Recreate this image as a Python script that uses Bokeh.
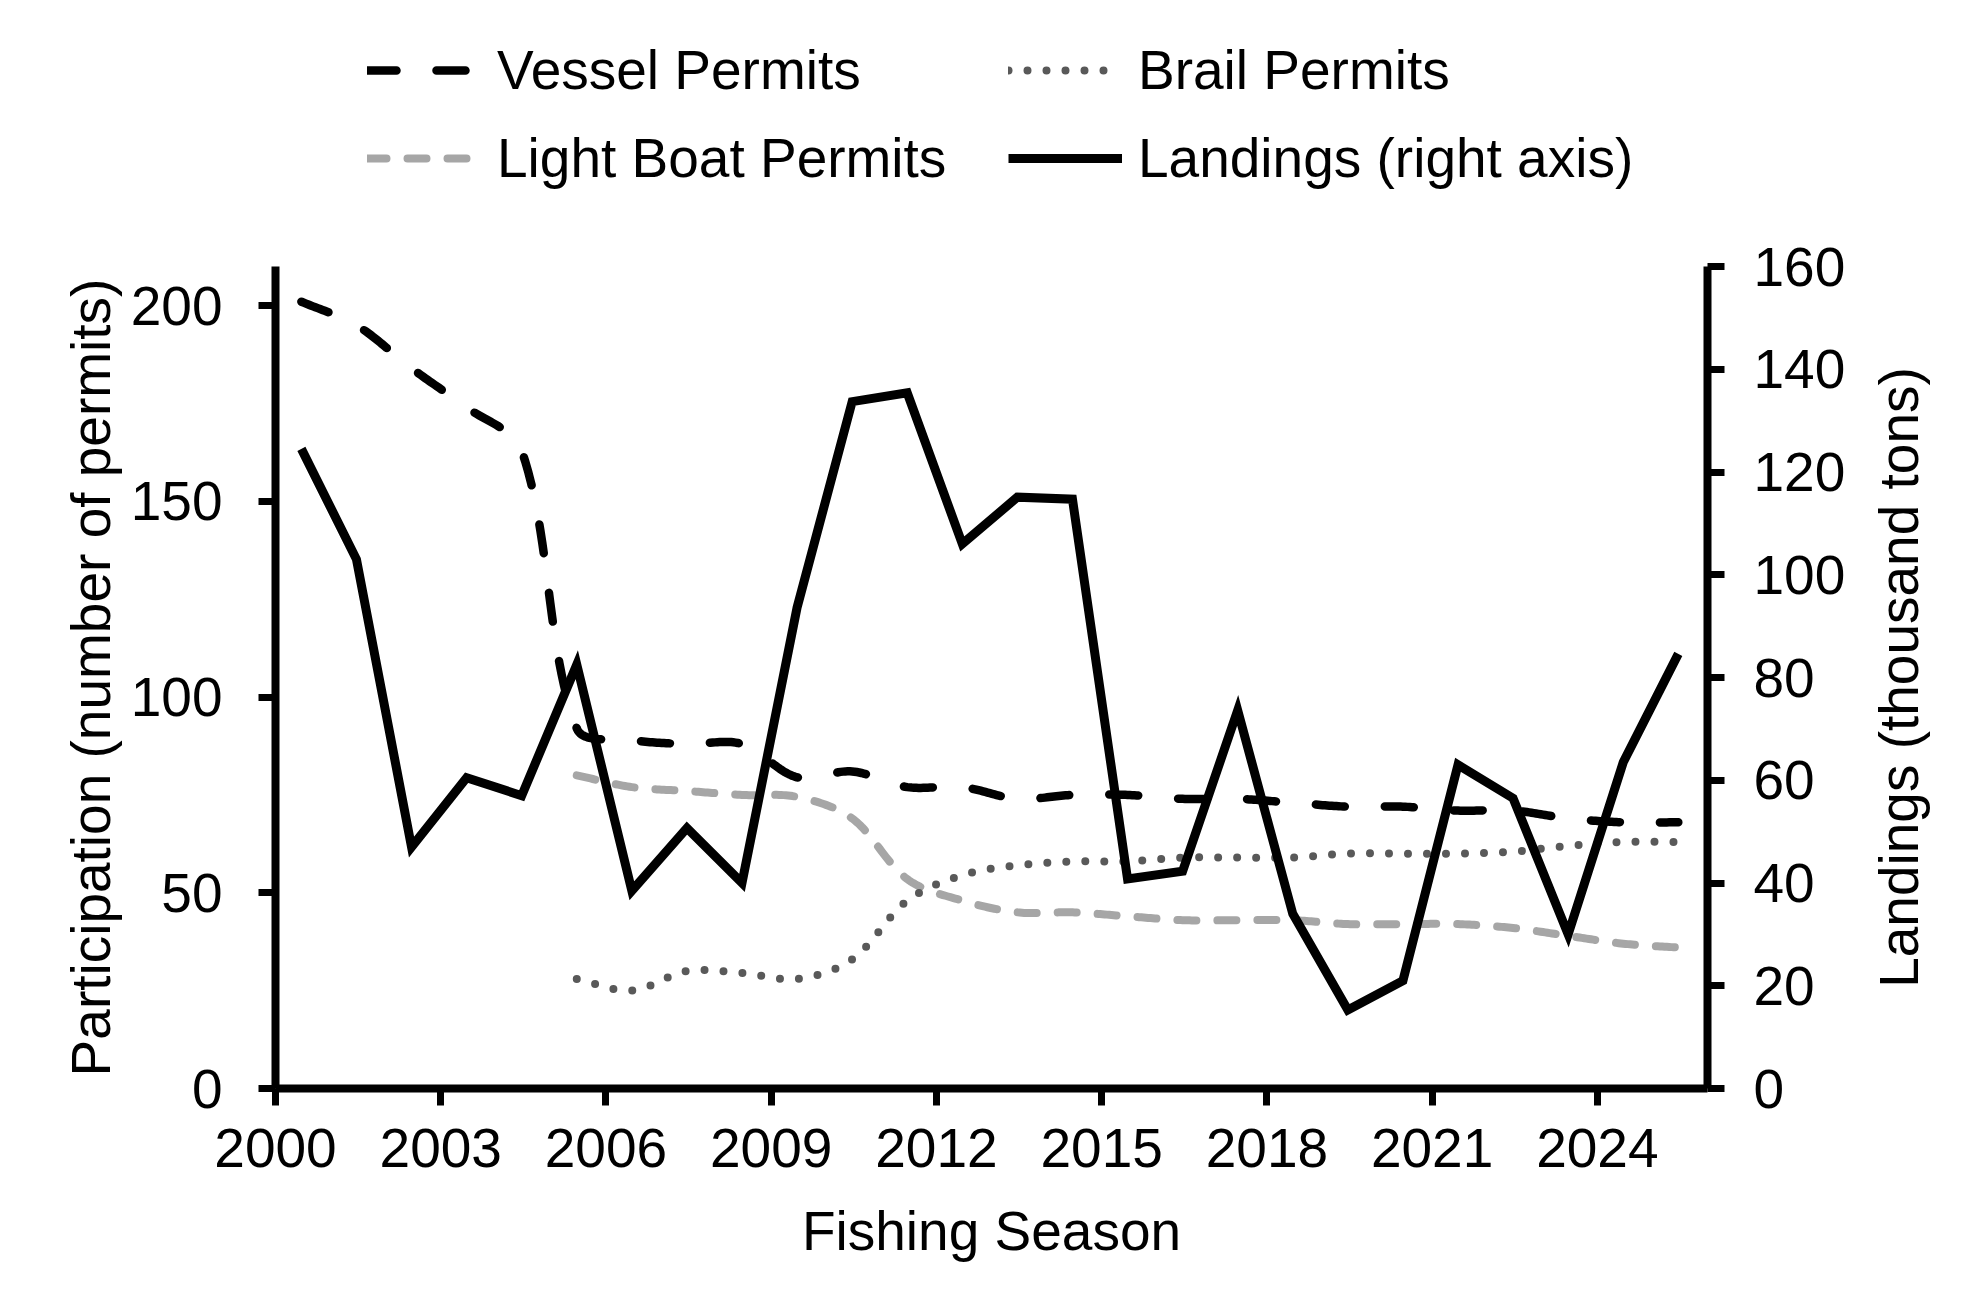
from bokeh.plotting import figure
from bokeh.layouts import column, row
from bokeh.models import (Range1d, LinearAxis, FixedTicker, Legend, LegendItem,
                          NumeralTickFormatter, Label)
from bokeh.embed import file_html
from bokeh.resources import INLINE
import math

# ---- data ----
seasons = list(range(2000, 2026))
vessel_permits = [201, 195, 184, 174, 163, 92, 89, 88, 88, 79.5, 81, 77, 77,
                  74, 75, 75, 74, 74, 73, 72, 72, 71, 71, 69, 68, 68]
permit_seasons = list(range(2005, 2026))
light_boat_permits = [80, 77, 76, 75, 74.5, 69, 53.5, 48, 45, 45, 44, 43, 43,
                      43, 42, 42, 42, 41, 39, 37, 36]
brail_permits = [28, 25, 30, 29.5, 28, 33, 48, 54.5, 57, 58, 58, 59, 59, 59,
                 60, 60, 60, 60.5, 62, 63, 63]
landings = [124.5, 103, 47, 60.5, 57, 82.5, 38.5, 50.7, 40, 93.6, 133.7,
            135.4, 106, 115.1, 114.7, 40.8, 42.3, 73.6, 34, 15.3, 21, 63,
            56.5, 30, 63.5, 84.6]
x_ticks = [2000, 2003, 2006, 2009, 2012, 2015, 2018, 2021, 2024]
left_ticks = [0, 50, 100, 150, 200]
right_ticks = [0, 20, 40, 60, 80, 100, 120, 140, 160]

W, H = 1980, 1306
TOP_H = 200                     # legend strip
MAIN_H = H - TOP_H
SIDE_W = 130                    # strip holding the right-hand axis title
MAIN_W = W - SIDE_W
BL, BB = 275, 218
FRAME_TOP = 266                 # page y of the top of the value axes
FRAME_RIGHT = 1707              # page x of the right value axis
X0, X1 = 2000, 2026
YL1, YR1 = 210, 160
CENTER = 0.47                   # seasons are plotted mid-interval
FONT = "Liberation Sans"
FS = "55px"

frame_w = FRAME_RIGHT - BL
frame_h = H - BB - FRAME_TOP
sx = frame_w / (X1 - X0)
sy = frame_h / YL1

STYLES = {
    "vessel": dict(line_color="black", line_width=8.5, line_dash="29 40",
                   line_cap="round", line_join="round"),
    "light": dict(line_color="#A6A6A6", line_width=8, line_dash="19 21",
                  line_cap="round", line_join="round"),
    "brail": dict(line_color="#595959", line_width=8, line_dash="0 19",
                  line_cap="round", line_join="round"),
    "land": dict(line_color="black", line_width=9, line_join="miter"),
}


def smoothed(xs, ys, tension=1 / 3, steps=24):
    """Bezier-smoothed polyline (spreadsheet style), built in screen space."""
    P = [(x * sx, y * sy) for x, y in zip(xs, ys)]
    n = len(P)

    def ctrl(i):
        prev = P[i - 1] if i > 0 else P[i]
        nxt = P[i + 1] if i < n - 1 else P[i]
        tx, ty = nxt[0] - prev[0], nxt[1] - prev[1]
        dp = math.hypot(P[i][0] - prev[0], P[i][1] - prev[1])
        dn = math.hypot(nxt[0] - P[i][0], nxt[1] - P[i][1])
        tot = dp + dn if dp + dn > 0 else 1
        cin = (P[i][0] - tx * tension * dp / tot, P[i][1] - ty * tension * dp / tot)
        cout = (P[i][0] + tx * tension * dn / tot, P[i][1] + ty * tension * dn / tot)
        return cin, cout

    cs = [ctrl(i) for i in range(n)]
    ox, oy = [P[0][0]], [P[0][1]]
    for i in range(n - 1):
        a, b = P[i], P[i + 1]
        c1, c2 = cs[i][1], cs[i + 1][0]
        for k in range(1, steps + 1):
            t = k / steps
            u = 1 - t
            bx = u**3 * a[0] + 3 * u * u * t * c1[0] + 3 * u * t * t * c2[0] + t**3 * b[0]
            by = u**3 * a[1] + 3 * u * u * t * c1[1] + 3 * u * t * t * c2[1] + t**3 * b[1]
            ox.append(bx)
            oy.append(by)
    return [v / sx for v in ox], [v / sy for v in oy]


# ---------------- main chart ----------------
p = figure(width=MAIN_W, height=MAIN_H, output_backend="svg", toolbar_location=None,
           x_range=Range1d(X0, X1), y_range=Range1d(0, YL1),
           min_border_left=BL, min_border_right=MAIN_W - FRAME_RIGHT,
           min_border_top=FRAME_TOP - TOP_H, min_border_bottom=BB)
p.extra_y_ranges = {"land": Range1d(0, YR1)}
p.outline_line_color = None
p.xgrid.visible = False
p.ygrid.visible = False
p.background_fill_color = "white"
p.border_fill_color = "white"

right_axis = LinearAxis(y_range_name="land")
p.add_layout(right_axis, "right")

p.xaxis.ticker = FixedTicker(ticks=x_ticks)
p.xaxis.formatter = NumeralTickFormatter(format="0")
p.yaxis[0].ticker = FixedTicker(ticks=left_ticks)
right_axis.ticker = FixedTicker(ticks=right_ticks)

for ax in [p.xaxis[0], p.yaxis[0], right_axis]:
    ax.axis_line_width = 8
    ax.axis_line_color = "black"
    ax.major_tick_line_width = 7
    ax.major_tick_line_color = "black"
    ax.major_tick_out = 17
    ax.major_tick_in = 0
    ax.minor_tick_out = 0
    ax.minor_tick_in = 0
    ax.major_label_text_font = FONT
    ax.major_label_text_font_size = FS
    ax.major_label_text_color = "black"
    ax.axis_label_text_font = FONT
    ax.axis_label_text_font_size = FS
    ax.axis_label_text_font_style = "normal"
    ax.axis_label_text_color = "black"

p.xaxis.axis_label = "Fishing Season"
p.xaxis.major_label_standoff = 23
p.xaxis.axis_label_standoff = 30
p.yaxis[0].axis_label = "Participation (number of permits)"
p.yaxis[0].major_label_standoff = 36
p.yaxis[0].axis_label_standoff = 6
right_axis.major_label_standoff = 29

xs_all = [s + CENTER for s in seasons]
xs_perm = [s + CENTER for s in permit_seasons]

vx, vy = smoothed(xs_all, vessel_permits)
lx, ly = smoothed(xs_perm, light_boat_permits)
bx, by = smoothed(xs_perm, brail_permits)

p.line(vx, vy, **STYLES["vessel"])
p.line(lx, ly, **STYLES["light"])
p.line(bx, by, **STYLES["brail"])
p.line(xs_all, landings, y_range_name="land", **STYLES["land"])

# ---------------- right-hand axis title ----------------
# its frame lines up with the main chart's frame (same top/bottom borders)
side = figure(width=SIDE_W, height=MAIN_H, output_backend="svg", toolbar_location=None,
              x_axis_type=None, y_axis_type=None,
              min_border_left=0, min_border_right=0,
              min_border_top=FRAME_TOP - TOP_H, min_border_bottom=BB)
side.outline_line_color = None
side.background_fill_color = "white"
side.border_fill_color = "white"
side.add_layout(Label(x=1898 - MAIN_W, y=frame_h / 2,
                      x_units="screen", y_units="screen",
                      text="Landings (thousand tons)", angle=math.pi / 2,
                      text_align="center", text_baseline="middle",
                      text_font=FONT, text_font_size=FS, text_color="black"))

# ---------------- legend strip ----------------
top = figure(width=W, height=TOP_H, output_backend="svg", toolbar_location=None,
             x_axis_type=None, y_axis_type=None,
             min_border_left=0, min_border_right=0, min_border_top=0, min_border_bottom=0)
top.outline_line_color = None
top.background_fill_color = "white"
top.border_fill_color = "white"

series = {"vessel": (seasons, vessel_permits),
          "light": (permit_seasons, light_boat_permits),
          "brail": (permit_seasons, brail_permits),
          "land": (seasons, landings)}
key = {name: top.line(series[name][0], series[name][1], visible=False, **style)
       for name, style in STYLES.items()}
rows = [(71.7, [("Vessel Permits", "vessel", 367),
                ("Brail Permits", "brail", 1008)]),
        (160.0, [("Light Boat Permits", "light", 367),
                 ("Landings (right axis)", "land", 1008)])]
ITEM_H = 60
for cy, entries in rows:
    for label, name, left in entries:
        lg = Legend(items=[LegendItem(label=label, renderers=[key[name]])],
                    location=(left, TOP_H - (cy + ITEM_H / 2)),
                    orientation="vertical",
                    glyph_width=114, glyph_height=ITEM_H,
                    label_height=ITEM_H, label_standoff=16,
                    padding=0, margin=0, spacing=0,
                    border_line_color=None, background_fill_alpha=0,
                    label_text_font=FONT, label_text_font_size=FS,
                    label_text_color="black")
        top.add_layout(lg, "center")

page = column(top, row(p, side, spacing=0), spacing=0)
open("out.html", "w").write(file_html(page, INLINE))
